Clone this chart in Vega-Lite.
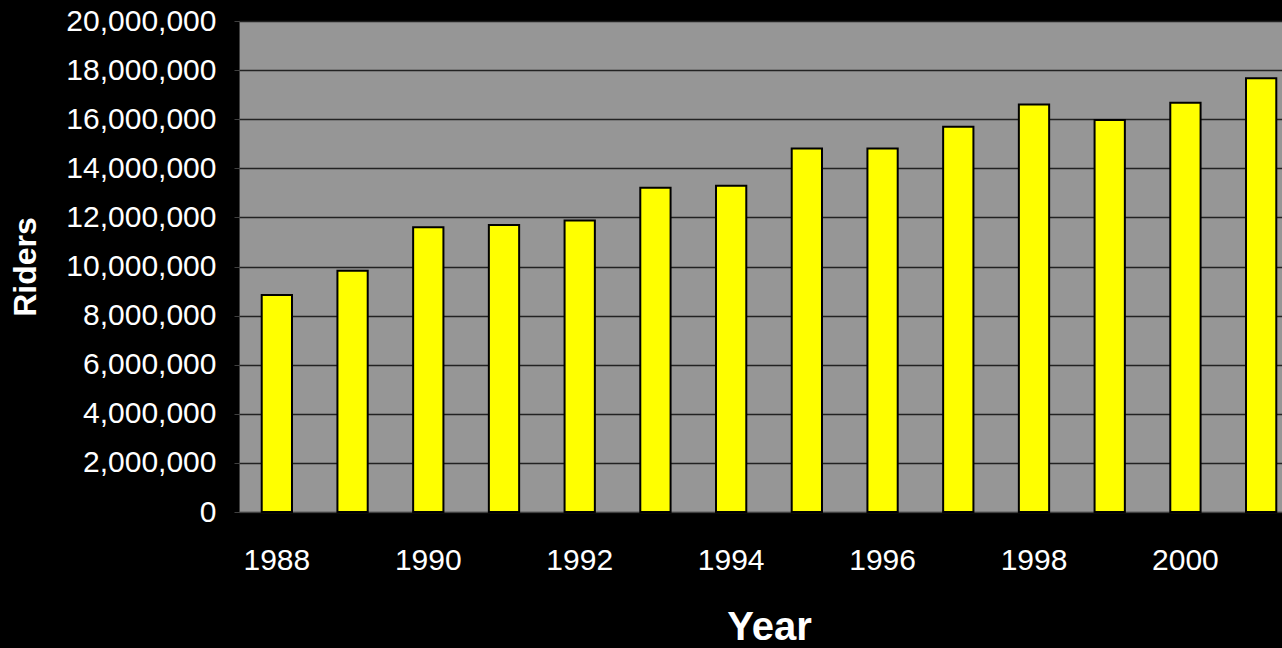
{
  "$schema": "https://vega.github.io/schema/vega-lite/v6.json",
  "autosize": {"type": "none"},
  "padding": {"left": 239, "top": 21, "right": 0, "bottom": 136},
  "width": 1043,
  "height": 491,
  "background": "#000000",
  "config": {
    "view": {"fill": "#969696", "stroke": "#606060", "strokeWidth": 1},
    "font": "Liberation Sans"
  },
  "data": {
    "values": [
      {"year": 1988, "riders": 8840000},
      {"year": 1989, "riders": 9830000},
      {"year": 1990, "riders": 11600000},
      {"year": 1991, "riders": 11690000},
      {"year": 1992, "riders": 11870000},
      {"year": 1993, "riders": 13210000},
      {"year": 1994, "riders": 13290000},
      {"year": 1995, "riders": 14810000},
      {"year": 1996, "riders": 14810000},
      {"year": 1997, "riders": 15690000},
      {"year": 1998, "riders": 16600000},
      {"year": 1999, "riders": 15970000},
      {"year": 2000, "riders": 16670000},
      {"year": 2001, "riders": 17670000}
    ]
  },
  "mark": {"type": "bar", "fill": "#FFFF00", "stroke": "#000000", "strokeWidth": 2},
  "encoding": {
    "x": {
      "field": "year",
      "type": "ordinal",
      "scale": {"range": [0, 1060], "paddingInner": 0.6, "paddingOuter": 0.3},
      "axis": {
        "title": "Year",
        "labelAngle": 0,
        "labelExpr": "datum.value % 2 == 0 ? datum.label : ''",
        "labelColor": "#FFFFFF",
        "labelFont": "Liberation Sans",
        "labelFontSize": 30,
        "labelBaseline": "middle",
        "labelPadding": 48,
        "ticks": false,
        "tickSize": 0,
        "domainColor": "#404040",
        "domainWidth": 1,
        "grid": false,
        "titleColor": "#FFFFFF",
        "titleFont": "Liberation Sans",
        "titleFontSize": 40,
        "titleFontWeight": "bold",
        "titleX": 530,
        "titleY": 127,
        "titleBaseline": "alphabetic",
        "titleAlign": "center"
      }
    },
    "y": {
      "field": "riders",
      "type": "quantitative",
      "scale": {"domain": [0, 20000000], "nice": false},
      "axis": {
        "title": "Riders",
        "values": [0, 2000000, 4000000, 6000000, 8000000, 10000000, 12000000, 14000000, 16000000, 18000000, 20000000],
        "format": ",d",
        "labelColor": "#FFFFFF",
        "labelFont": "Liberation Sans",
        "labelFontSize": 30,
        "labelPadding": 18,
        "labelBaseline": "middle",
        "tickColor": "#404040",
        "tickSize": 5,
        "domainColor": "#404040",
        "grid": true,
        "gridColor": "#222222",
        "gridWidth": 1.5,
        "gridOpacity": 1,
        "titleColor": "#FFFFFF",
        "titleFont": "Liberation Sans",
        "titleFontSize": 32,
        "titleFontWeight": "bold",
        "titleAngle": -90,
        "titleX": -214,
        "titleY": 245.5,
        "titleAlign": "center",
        "titleBaseline": "middle"
      }
    }
  }
}
